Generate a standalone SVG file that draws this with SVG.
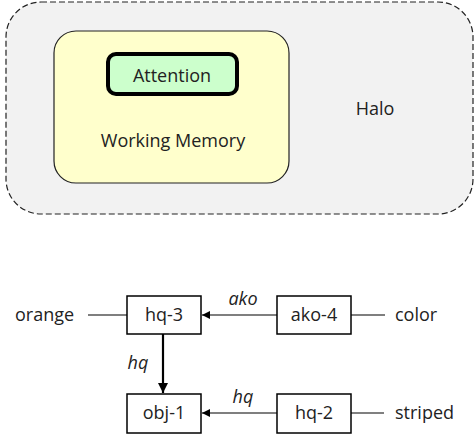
<svg xmlns="http://www.w3.org/2000/svg" width="476" height="436" viewBox="0 0 476 436">
<style>
text{font-family:"Open Sans","Liberation Sans",sans-serif;font-size:18px;fill:#222;}
.c{text-anchor:middle;}
.i{font-style:italic;}
.box{fill:#fff;stroke:#000;stroke-width:1.5;}
.ln{stroke:#000;stroke-width:1.2;fill:none;}
</style>
<defs>
<marker id="ah" viewBox="0 0 10 10" refX="10" refY="5" markerWidth="8" markerHeight="8" markerUnits="userSpaceOnUse" orient="auto"><path d="M0,0L10,5L0,10z" fill="#000"/></marker>
<marker id="ah2" viewBox="0 0 10 10" refX="10" refY="5" markerWidth="10" markerHeight="10" markerUnits="userSpaceOnUse" orient="auto"><path d="M0,0L10,5L0,10z" fill="#000"/></marker>
</defs>
<g id="halo">
<rect x="6" y="2" width="467" height="212" rx="35" ry="35" fill="#f2f2f2" stroke="#222" stroke-width="1.2" stroke-dasharray="6,3"/>
<text x="375" y="115" class="c">Halo</text>
</g>
<g id="working-memory">
<rect x="54" y="31" width="235" height="152" rx="22" ry="22" fill="#ffffcc" stroke="#222" stroke-width="1.2"/>
<text x="173" y="147" class="c">Working Memory</text>
</g>
<g id="attention">
<rect x="108" y="54" width="129" height="40" rx="8" ry="8" fill="#ccffcc" stroke="#000" stroke-width="4"/>
<text x="172" y="82" class="c">Attention</text>
</g>
<g id="connectors">
<line class="ln" x1="88" y1="315" x2="127" y2="315"/>
<line class="ln" x1="277" y1="315" x2="202" y2="315" marker-end="url(#ah)"/>
<line class="ln" x1="351" y1="315" x2="385" y2="315"/>
<line x1="163" y1="334" x2="163" y2="393" stroke="#000" stroke-width="2.2" marker-end="url(#ah2)"/>
<line class="ln" x1="277" y1="413" x2="202" y2="413" marker-end="url(#ah)"/>
<line x1="351" y1="413" x2="384" y2="413" stroke="#808080" stroke-width="1.8"/>
<text x="243" y="305" class="c i">ako</text>
<text x="138" y="369" class="c i">hq</text>
<text x="243" y="403" class="c i">hq</text>
</g>
<g id="orange"><text x="15" y="321">orange</text></g>
<g id="color"><text x="395" y="321">color</text></g>
<g id="striped"><text x="395" y="419">striped</text></g>
<g id="hq-3"><rect class="box" x="127" y="296" width="74" height="38"/><text x="164" y="321" class="c">hq-3</text></g>
<g id="ako-4"><rect class="box" x="277" y="296" width="74" height="38"/><text x="314" y="321" class="c">ako-4</text></g>
<g id="obj-1"><rect class="box" x="127" y="394" width="74" height="39"/><text x="164" y="419" class="c">obj-1</text></g>
<g id="hq-2"><rect class="box" x="277" y="394" width="74" height="39"/><text x="314" y="419" class="c">hq-2</text></g>
</svg>
